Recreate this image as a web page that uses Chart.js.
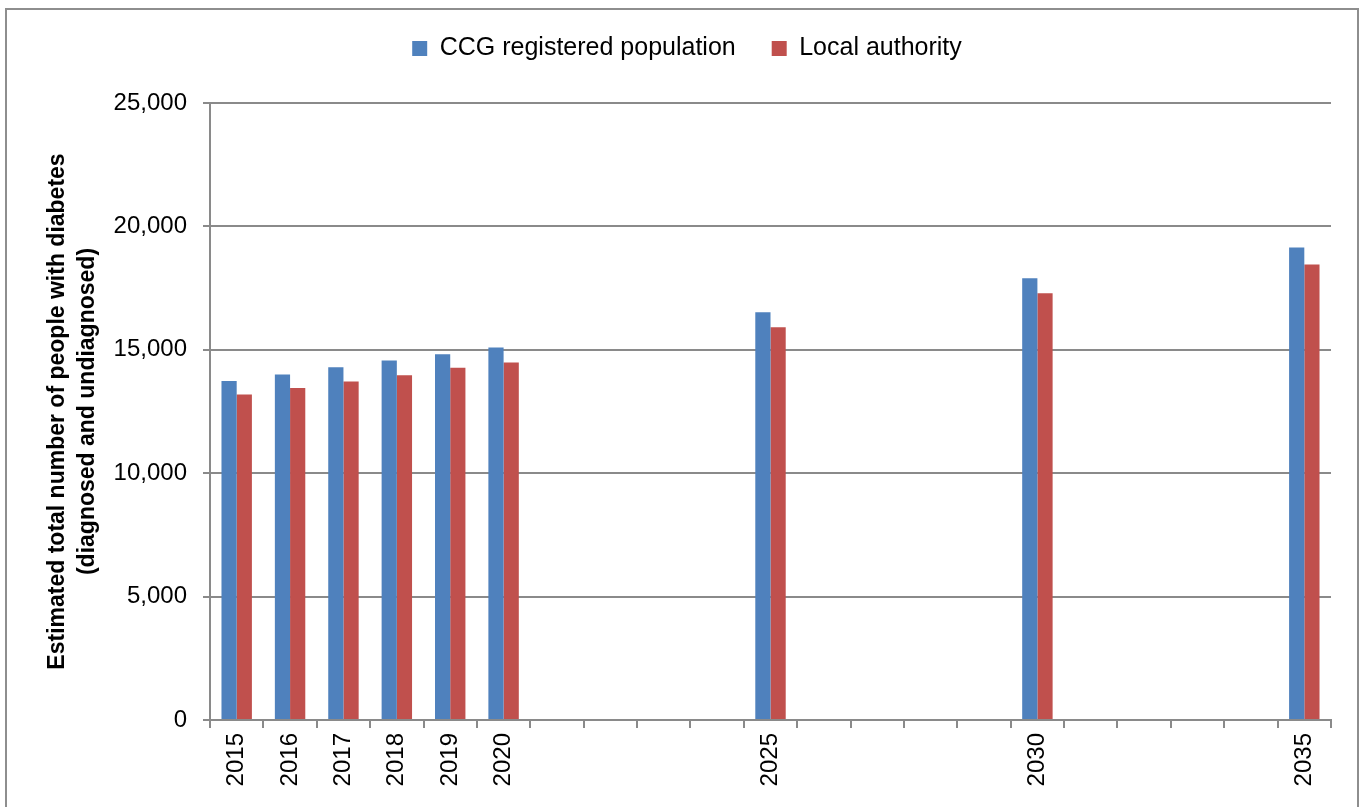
<!DOCTYPE html>
<html>
<head>
<meta charset="utf-8">
<script src="https://cdn.jsdelivr.net/npm/chart.js@4"></script>
<style>
  html,body{margin:0;padding:0;background:#fff;overflow:hidden;}
  #wrap{position:relative;width:1363px;height:807px;}
  #frame{position:absolute;left:5px;top:8px;width:1354px;height:900px;border:2px solid #8e8e8e;box-sizing:border-box;}
  #c{position:absolute;left:0;top:0;}
</style>
</head>
<body>
<div id="wrap">
  <div id="frame"></div>
  <canvas id="c" width="1363" height="807"></canvas>
</div>
<script>
/* -------------------- Data -------------------- */
const years = ['2015','2016','2017','2018','2019','2020','2021','2022','2023','2024','2025',
               '2026','2027','2028','2029','2030','2031','2032','2033','2034','2035'];
const shownYears = ['2015','2016','2017','2018','2019','2020','2025','2030','2035'];

const ccgValues = [13740,14000,14290,14570,14820,15090,null,null,null,null,16520,
                   null,null,null,null,17900,null,null,null,null,19150];
const laValues  = [13190,13450,13720,13970,14270,14490,null,null,null,null,15910,
                   null,null,null,null,17290,null,null,null,null,18460];

const seriesNames = ['CCG registered population','Local authority'];
const yTitle = ['Estimated total number of people with diabetes','(diagnosed and undiagnosed)'];

/* -------------------- Chart -------------------- */
const gridGrey = '#8a8a8a';
const font = 'Liberation Sans';

// push the plot area down below the legend, like the original
const legendGap = {
  id:'legendGap',
  beforeInit(chart){
    const orig = chart.legend.fit;
    chart.legend.fit = function(){ orig.call(this); this.height += 32; };
  }
};

new Chart(document.getElementById('c'),{
  type:'bar',
  data:{
    labels:years,
    datasets:[
      {label:seriesNames[0], data:ccgValues, backgroundColor:'#4F81BD'},
      {label:seriesNames[1], data:laValues, backgroundColor:'#C0504D'}
    ]
  },
  plugins:[legendGap],
  options:{
    responsive:false,
    animation:false,
    events:[],
    layout:{padding:{left:43,right:32,top:0,bottom:0}},
    datasets:{bar:{categoryPercentage:0.57,barPercentage:1.0}},
    plugins:{
      legend:{
        position:'top',
        labels:{
          font:{family:font,size:25},
          color:'#000',
          boxWidth:15, boxHeight:15,
          padding:36
        }
      },
      tooltip:{enabled:false}
    },
    scales:{
      x:{
        grid:{display:true,offset:true,drawOnChartArea:false,drawTicks:true,tickLength:8,color:gridGrey,lineWidth:2},
        border:{color:gridGrey,width:2},
        ticks:{
          autoSkip:false,maxRotation:90,minRotation:90,
          font:{family:font,size:24},color:'#000',padding:5,
          callback:function(v){ const l=this.getLabelForValue(v); return shownYears.includes(l)?l:''; }
        },
        afterFit:(s)=>{ s.height = 87; }
      },
      y:{
        min:0,max:25000,
        ticks:{stepSize:5000,font:{family:font,size:24},color:'#000',padding:16,
               callback:v=>v.toLocaleString('en-GB')},
        grid:{color:gridGrey,lineWidth:2,tickLength:7},
        border:{color:gridGrey,width:2},
        title:{display:true,text:yTitle,font:{family:font,size:23,weight:'bold',lineHeight:1.3},color:'#000',padding:{top:0,bottom:8}},
        afterFit:(s)=>{ s.width = 167; }
      }
    }
  }
});
</script>
</body>
</html>
